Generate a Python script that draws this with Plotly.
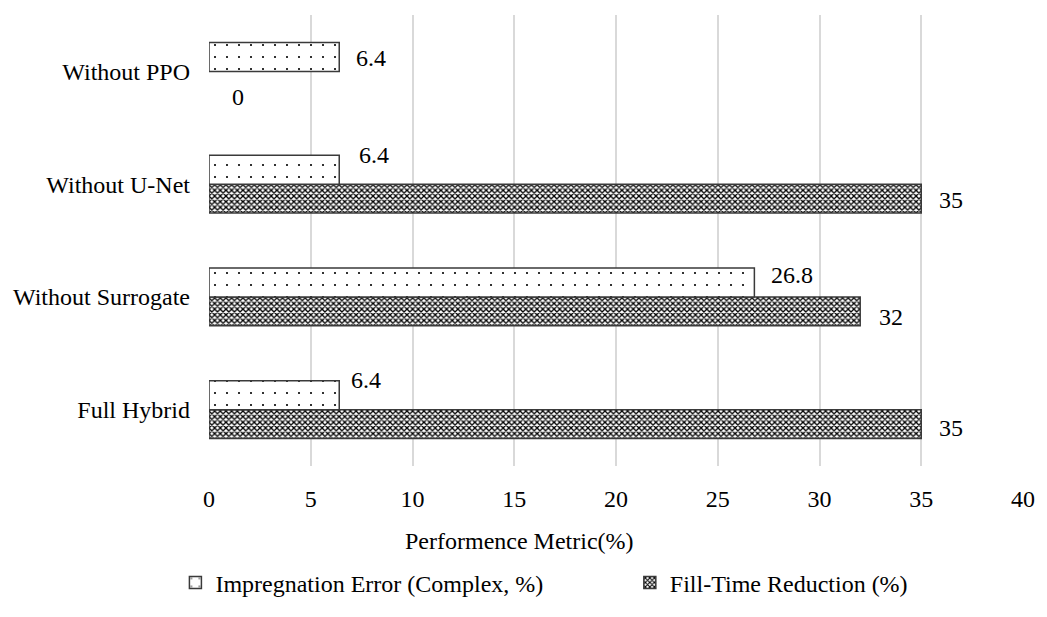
import plotly.graph_objects as go

# Ablation variants, listed bottom-to-top as drawn on the category axis
variants = ["Full Hybrid", "Without Surrogate", "Without U-Net", "Without PPO"]
impregnation_error = [6.4, 26.8, 6.4, 6.4]
fill_time_reduction = [35, 32, 35, 0]
x_ticks = [0, 5, 10, 15, 20, 25, 30, 35, 40]

FONT = "Liberation Serif"
FS = 24
EDGE = "#3a3a3a"


def edge_widths(values):
    # no outline on zero-length bars
    return [1.5 if v else 0 for v in values]


fig = go.Figure()

# Trace order inside a group goes bottom-up: fill-time bar sits below
fig.add_trace(go.Bar(
    y=variants, x=fill_time_reduction, orientation="h",
    name="Fill-Time Reduction (%)", legend="legend2",
    marker=dict(color="white",
                line=dict(color=EDGE, width=edge_widths(fill_time_reduction)),
                pattern=dict(shape="x", size=4, solidity=0.55,
                             fgcolor="black", bgcolor="white", fillmode="replace")),
))
fig.add_trace(go.Bar(
    y=variants, x=impregnation_error, orientation="h",
    name="Impregnation Error (Complex, %)", legend="legend",
    marker=dict(color="white",
                line=dict(color=EDGE, width=edge_widths(impregnation_error)),
                pattern=dict(shape=".", size=12, solidity=0.025,
                             fgcolor="black", bgcolor="white", fillmode="replace")),
))

# Value labels: per-series pixel offsets (right, up) from the bar end
imp_shift = [(10, 30), (15, 22), (18, 29), (15, 13)]
fill_shift = [(16, -18), (17, -20), (16, -16), (21, -26)]

for cat, val, (dx, dy) in zip(variants, impregnation_error, imp_shift):
    fig.add_annotation(x=val, y=cat, text=f"{val:g}", showarrow=False,
                       xanchor="left", yanchor="middle", xshift=dx, yshift=dy,
                       font=dict(family=FONT, size=FS, color="black"))
for cat, val, (dx, dy) in zip(variants, fill_time_reduction, fill_shift):
    fig.add_annotation(x=val, y=cat, text=f"{val:g}", showarrow=False,
                       xanchor="left", yanchor="middle", xshift=dx, yshift=dy,
                       font=dict(family=FONT, size=FS, color="black"))

# Axis title, centred on the whole figure below the tick labels
fig.add_annotation(text="Performence Metric(%)", xref="paper", yref="paper",
                   x=(523.5 - 209) / 824, y=-(560 - 482) / 467,
                   xanchor="center", yanchor="middle", showarrow=False,
                   font=dict(family=FONT, size=FS, color="black"))

legend_common = dict(orientation="h", xanchor="left", yanchor="middle",
                     y=-(603 - 482) / 467,
                     font=dict(family=FONT, size=FS, color="black"),
                     bgcolor="rgba(0,0,0,0)", itemclick=False)

fig.update_layout(
    width=1047, height=617,
    margin=dict(l=209, r=14, t=15, b=135),
    paper_bgcolor="white", plot_bgcolor="white",
    barmode="group", bargap=0.486, bargroupgap=0,
    font=dict(family=FONT, size=FS, color="black"),
    showlegend=True,
    legend=dict(x=(175 - 209) / 824, **legend_common),
    legend2=dict(x=(635 - 209) / 824, **legend_common),
    xaxis=dict(range=[0, 40], tickvals=x_ticks, showgrid=True,
               gridcolor="#d9d9d9", gridwidth=1.5, zeroline=False,
               showline=False, ticks="", ticklabelstandoff=16,
               tickfont=dict(family=FONT, size=FS, color="black")),
    yaxis=dict(categoryorder="array", categoryarray=variants,
               showgrid=False, zeroline=False, showline=False, ticks="",
               ticklabelstandoff=18,
               tickfont=dict(family=FONT, size=FS, color="black")),
)

fig.write_html("out.html")
